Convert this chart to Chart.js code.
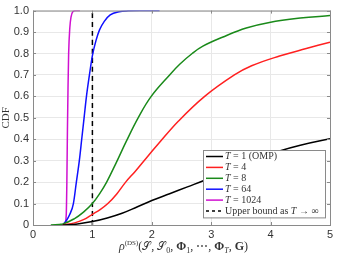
<!DOCTYPE html>
<html>
<head>
<meta charset="utf-8">
<script src="https://cdn.jsdelivr.net/npm/chart.js@4/dist/chart.umd.min.js"></script>
<style>
  html, body { margin: 0; padding: 0; background: #fff; }
  #wrap { width: 341px; height: 256px; }
</style>
</head>
<body>
<div id="wrap"><canvas id="chart" width="341" height="256"></canvas></div>
<script>
// values
const labels = ['T = 1 (OMP)', 'T = 4', 'T = 8', 'T = 64', 'T = 1024', 'Upper bound as T \u2192 \u221e'];
const colors = ['#000000', '#ff2020', '#1a8a1a', '#1010ff', '#d010d0', '#000000'];

const t1X = [0.5, 0.75, 1.0, 1.25, 1.5, 1.75, 2.0, 2.3, 2.6, 2.9, 3.2, 3.5, 3.8, 4.15, 4.5, 5];
const t1Y = [0, 0.005, 0.016, 0.033, 0.055, 0.084, 0.114, 0.146, 0.178, 0.21, 0.245, 0.278, 0.312, 0.345, 0.372, 0.402];

const t4X = [0.5, 0.7, 0.85, 1.0, 1.13, 1.26, 1.41, 1.56, 1.72, 1.87, 2.1, 2.45, 2.89, 3.39, 3.68, 4.15, 4.6, 5];
const t4Y = [0, 0.01, 0.025, 0.05, 0.072, 0.1, 0.145, 0.2, 0.25, 0.3, 0.375, 0.485, 0.6, 0.7, 0.743, 0.788, 0.823, 0.853];

const t8X = [0.3, 0.5, 0.7, 0.85, 1.0, 1.12, 1.24, 1.4, 1.57, 1.77, 1.99, 2.3, 2.47, 2.68, 2.86, 3.2, 3.59, 3.98, 4.5, 5];
const t8Y = [0, 0.005, 0.03, 0.06, 0.1, 0.145, 0.2, 0.29, 0.39, 0.5, 0.6, 0.7, 0.75, 0.8, 0.834, 0.877, 0.919, 0.945, 0.965, 0.977];

const t64X = [0.5, 0.56, 0.62, 0.68, 0.73, 0.78, 0.82, 0.86, 0.9, 0.95, 1.0, 1.06, 1.12, 1.2, 1.3, 1.45, 1.6, 1.8, 2.13];
const t64Y = [0, 0.02, 0.05, 0.1, 0.2, 0.3, 0.4, 0.5, 0.6, 0.7, 0.79, 0.86, 0.91, 0.95, 0.98, 0.995, 0.999, 1, 1];

const t1024X = [0.5, 0.54, 0.56, 0.57, 0.58, 0.59, 0.6, 0.62, 0.64, 0.67, 0.72, 0.79];
const t1024Y = [0, 0.01, 0.05, 0.2, 0.45, 0.65, 0.8, 0.92, 0.97, 0.995, 1, 1];

const boundX = [1, 1];
const boundY = [0, 1];

const xTicks = [0, 1, 2, 3, 4, 5];
const yTicks = [0, 0.1, 0.2, 0.3, 0.4, 0.5, 0.6, 0.7, 0.8, 0.9, 1];

const serif = '"Liberation Serif", "DejaVu Serif", serif';

function pts(xs, ys) {
    return xs.map((x, i) => ({ x: x, y: ys[i] }));
}

const seriesData = [pts(t1X, t1Y), pts(t4X, t4Y), pts(t8X, t8Y), pts(t64X, t64Y), pts(t1024X, t1024Y), pts(boundX, boundY)];

const datasets = seriesData.map((d, i) => ({
    label: labels[i],
    data: d,
    borderColor: colors[i],
    backgroundColor: colors[i],
    borderWidth: 1.5,
    borderDash: i === 5 ? [5, 4] : [],
    pointRadius: 0,
    // the steep ones stay monotone so they do not overshoot
    cubicInterpolationMode: i >= 3 ? 'monotone' : 'default',
    tension: 0.4,
    fill: false
}));

// draw a run of text pieces, each with its own font and vertical shift
function drawRuns(ctx, runs, x, y) {
    runs.forEach(r => {
        ctx.font = r.font;
        ctx.fillText(r.t, x, y + (r.dy || 0));
        x += ctx.measureText(r.t).width;
    });
    return x;
}
function runsWidth(ctx, runs) {
    let w = 0;
    runs.forEach(r => { ctx.font = r.font; w += ctx.measureText(r.t).width; });
    return w;
}

// label text with an italic T
function labelRuns(lab, size) {
    const parts = lab.split('T');
    const runs = [];
    parts.forEach((p, i) => {
        if (i > 0) runs.push({ t: 'T', font: 'italic ' + size + 'px ' + serif });
        if (p) runs.push({ t: p, font: size + 'px ' + serif });
    });
    return runs;
}

// box around the plot with inward tick marks
const boxPlugin = {
    id: 'box',
    afterDraw(chart) {
        const ctx = chart.ctx;
        const a = chart.chartArea;
        const xs = chart.scales.x, ys = chart.scales.y;
        ctx.save();
        ctx.strokeStyle = '#8a8a8a';
        ctx.lineWidth = 1;
        ctx.strokeRect(a.left + 0.5, a.top + 0.5, a.right - a.left, a.bottom - a.top);
        ctx.beginPath();
        xTicks.forEach(v => {
            const p = Math.round(xs.getPixelForValue(v)) + 0.5;
            ctx.moveTo(p, a.bottom); ctx.lineTo(p, a.bottom - 3);
            ctx.moveTo(p, a.top); ctx.lineTo(p, a.top + 3);
        });
        yTicks.forEach(v => {
            const p = Math.round(ys.getPixelForValue(v)) + 0.5;
            ctx.moveTo(a.left, p); ctx.lineTo(a.left + 3, p);
            ctx.moveTo(a.right, p); ctx.lineTo(a.right - 3, p);
        });
        ctx.stroke();

        // x axis title with a superscript
        const title = [
            { t: '\u03c1', font: 'italic 12px ' + serif },
            { t: '(DS)', font: '7px ' + serif, dy: -5 },
            { t: '(', font: '12px ' + serif },
            { t: '\ud835\udcae', font: '11px "DejaVu Serif", serif' },
            { t: ', ', font: '12px ' + serif },
            { t: '\ud835\udcae', font: '11px "DejaVu Serif", serif' },
            { t: '0', font: '8px ' + serif, dy: 3 },
            { t: ', ', font: '12px ' + serif },
            { t: '\u03a6', font: 'bold 12px ' + serif },
            { t: '1', font: '8px ' + serif, dy: 3 },
            { t: ', \u22ef, ', font: '12px ' + serif },
            { t: '\u03a6', font: 'bold 12px ' + serif },
            { t: 'T', font: 'italic 8px ' + serif, dy: 3 },
            { t: ', ', font: '12px ' + serif },
            { t: 'G', font: 'bold 12px ' + serif },
            { t: ')', font: '12px ' + serif }
        ];
        ctx.fillStyle = '#333';
        ctx.textBaseline = 'alphabetic';
        const cx = (a.left + a.right) / 2 + 2;
        drawRuns(ctx, title, cx - runsWidth(ctx, title) / 2, 250);
        ctx.restore();
    }
};

// legend drawn inside the plot, lower right
const legendPlugin = {
    id: 'insideLegend',
    afterDraw(chart) {
        const ctx = chart.ctx;
        const left = 203, top = 150, w = 122, rowH = 10.9;
        const h = rowH * labels.length + 2;
        ctx.save();
        ctx.fillStyle = '#ffffff';
        ctx.fillRect(left, top, w, h);
        ctx.strokeStyle = '#8a8a8a';
        ctx.lineWidth = 1;
        ctx.strokeRect(left + 0.5, top + 0.5, w, h);
        ctx.textBaseline = 'middle';
        labels.forEach((lab, i) => {
            const y = top + 6.5 + i * rowH;
            ctx.beginPath();
            ctx.strokeStyle = colors[i];
            ctx.lineWidth = 1.5;
            ctx.setLineDash(i === 5 ? [3, 3] : []);
            ctx.moveTo(left + 3, y);
            ctx.lineTo(left + 20, y);
            ctx.stroke();
            ctx.setLineDash([]);
            ctx.fillStyle = '#333';
            drawRuns(ctx, labelRuns(lab, 10), left + 22, y);
        });
        ctx.restore();
    }
};

const ctx = document.getElementById('chart').getContext('2d');
new Chart(ctx, {
    type: 'line',
    data: { datasets: datasets },
    plugins: [boxPlugin, legendPlugin],
    options: {
        responsive: false,
        animation: false,
        layout: { padding: { top: 7, right: 11, left: 0, bottom: 0 } },
        plugins: { legend: { display: false }, tooltip: { enabled: false } },
        scales: {
            x: {
                type: 'linear',
                min: 0, max: 5,
                afterBuildTicks: s => { s.ticks = xTicks.map(v => ({ value: v })); },
                afterFit: s => { s.height = 31; },
                grid: { color: '#e8e8e8', drawTicks: false },
                border: { display: false },
                ticks: { color: '#333', font: { family: 'Liberation Sans', size: 11 }, padding: 3 },
                title: { display: false }
            },
            y: {
                min: 0, max: 1,
                afterBuildTicks: s => { s.ticks = yTicks.map(v => ({ value: v })); },
                afterFit: s => { s.width = 33; },
                grid: { color: '#e8e8e8', drawTicks: false },
                border: { display: false },
                ticks: { color: '#333', font: { family: 'Liberation Sans', size: 11 }, padding: 4 },
                title: {
                    display: true,
                    text: 'CDF',
                    color: '#333',
                    font: { family: 'Liberation Serif', size: 11 },
                    padding: { top: 0, bottom: 0 }
                }
            }
        }
    }
});
</script>
</body>
</html>
